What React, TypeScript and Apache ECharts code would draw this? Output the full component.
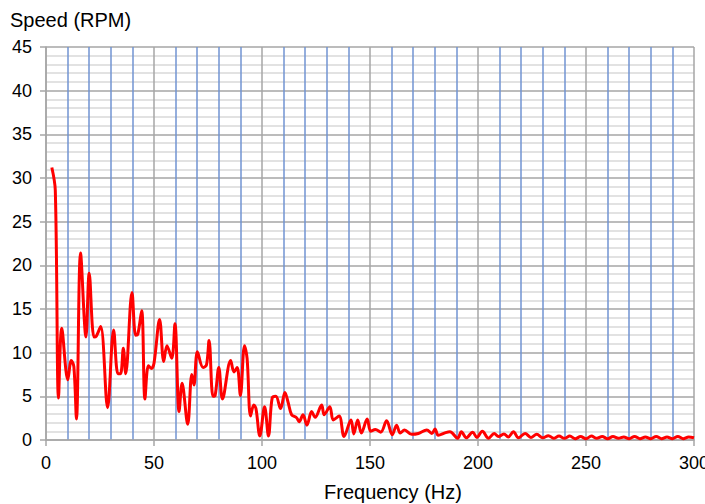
import React, { useEffect, useRef } from "react";
import * as echarts from "echarts";

const freqHz = [
  2.7, 4.3, 5.8, 7.3, 10.1, 11.7, 12.9, 14.1, 16.0, 18.5, 20.0, 22.2, 23.3, 25.3, 28.5, 31.3, 33.3, 34.5, 35.8, 36.9,
  39.8, 41.5, 42.5, 44.3, 45.8, 47.4, 48.8, 50.0, 52.6, 54.5, 56.0, 58.2, 59.7, 61.6, 63.0, 65.6, 67.5, 68.5, 70.1, 72.7,
  74.3, 75.5, 77.3, 78.3, 80.0, 81.7, 85.5, 87.0, 88.5, 90.0, 91.9, 93.1, 94.7, 96.2, 97.2, 99.0, 101.2, 103.0, 104.7, 106.4,
  108.6, 110.6, 112.1, 113.7, 116.0, 117.2, 119.0, 120.8, 123.0, 124.6, 127.6, 128.8, 131.4, 133.0, 135.7, 138.0, 141.2, 142.5, 144.3, 146.0,
  148.7, 150.3, 152.5, 155.0, 157.7, 160.3, 162.3, 164.0, 166.0, 169.3, 172.4, 176.3, 178.6, 180.1, 181.6, 185.0, 187.0, 190.6, 192.3, 194.6,
  197.5, 199.5, 202.0, 204.9, 207.5, 209.5, 212.0, 214.0, 216.4, 218.7, 221.8, 224.5, 227.2, 230.0, 232.6, 235.0, 237.5, 240.0, 242.5, 245.0,
  247.5, 250.0, 252.5, 255.0, 257.5, 260.0, 262.5, 265.0, 267.5, 270.0, 272.5, 275.0, 277.5, 280.0, 282.5, 285.0, 287.5, 290.0, 292.5, 295.0,
  297.5, 300.0,
];

const speedRpm = [
  31.2, 28.6, 4.8, 12.8, 6.9, 9.1, 8.4, 2.4, 21.4, 11.8, 19.1, 11.8, 11.9, 13.0, 3.7, 12.6, 7.6, 7.6, 10.5, 7.6,
  16.9, 12.0, 12.1, 14.8, 4.7, 8.5, 8.2, 8.8, 13.8, 9.0, 10.8, 9.35, 13.3, 3.25, 6.5, 1.8, 7.5, 6.3, 10.1, 8.3,
  8.6, 11.4, 5.0, 5.1, 8.3, 4.7, 9.1, 7.8, 8.3, 5.1, 10.8, 9.35, 2.75, 4.0, 3.6, 0.46, 3.8, 0.46, 4.8, 5.0,
  3.6, 5.45, 4.3, 2.9, 2.55, 2.1, 2.9, 1.7, 3.25, 2.6, 4.0, 2.9, 3.8, 2.3, 2.75, 0.4, 2.3, 0.7, 2.3, 0.8,
  2.4, 1.0, 1.2, 0.9, 2.2, 0.6, 1.7, 0.8, 1.15, 0.65, 0.75, 1.15, 0.75, 1.25, 0.55, 0.85, 0.95, 0.2, 0.95, 0.25,
  0.9, 0.3, 1.0, 0.2, 0.75, 0.4, 0.7, 0.35, 0.95, 0.25, 0.75, 0.3, 0.65, 0.25, 0.5, 0.2, 0.45, 0.2, 0.45, 0.15,
  0.4, 0.15, 0.45, 0.2, 0.4, 0.15, 0.4, 0.2, 0.35, 0.15, 0.4, 0.15, 0.35, 0.15, 0.4, 0.15, 0.35, 0.15, 0.4, 0.15,
  0.35, 0.25,
];

const yAxisTitle = "Speed (RPM)";
const xAxisTitle = "Frequency (Hz)";

const FONT = "Liberation Sans, Arial, sans-serif";
const MAJOR = "#a6a6a6";
const MINOR = "#d9d9d9";
const BLUE = "#7093d2";

export default function App() {
  const ref = useRef<HTMLDivElement>(null);
  useEffect(() => {
    if (!ref.current) return;
    const chart = echarts.init(ref.current, null, { renderer: "svg" });
    const grid = { left: 46, right: 11, top: 47, bottom: 64, containLabel: false, outerBoundsMode: "none" };
    chart.setOption({
      animation: false,
      backgroundColor: "#ffffff",
      grid,
      xAxis: [
        {
          type: "value",
          min: 0,
          max: 300,
          interval: 10,
          position: "bottom",
          axisLine: { show: false },
          axisTick: { show: false },
          axisLabel: { show: false },
          splitLine: {
            show: true,
            lineStyle: { color: [MAJOR, BLUE, BLUE, BLUE, BLUE], width: 1.5 },
          },
        },
        {
          type: "value",
          min: 0,
          max: 300,
          interval: 50,
          position: "bottom",
          axisLine: { show: true, onZero: false, lineStyle: { color: MAJOR, width: 1.5 } },
          axisTick: { show: true, inside: false, length: 6, lineStyle: { color: MAJOR, width: 1.5 } },
          axisLabel: { show: true, color: "#000", fontFamily: FONT, fontSize: 18, margin: 14, hideOverlap: false },
          splitLine: { show: false },
        },
      ],
      yAxis: [
        {
          type: "value",
          min: 0,
          max: 45,
          interval: 1,
          position: "left",
          axisLine: { show: false },
          axisTick: { show: false },
          axisLabel: { show: false },
          splitLine: {
            show: true,
            lineStyle: { color: [MAJOR, MINOR, MINOR, MINOR, MINOR], width: 1.5 },
          },
        },
        {
          type: "value",
          min: 0,
          max: 45,
          interval: 5,
          position: "left",
          axisLine: { show: true, onZero: false, lineStyle: { color: MAJOR, width: 1.5 } },
          axisTick: { show: true, inside: false, length: 6, lineStyle: { color: MAJOR, width: 1.5 } },
          axisLabel: { show: true, color: "#000", fontFamily: FONT, fontSize: 18, margin: 14 },
          splitLine: { show: false },
        },
      ],
      graphic: [
        {
          type: "text",
          left: 10,
          top: 10,
          style: { text: yAxisTitle, fill: "#000", font: `20px ${FONT}` },
        },
        {
          type: "text",
          x: 393,
          y: 492,
          style: {
            text: xAxisTitle,
            fill: "#000",
            font: `20px ${FONT}`,
            textAlign: "center",
            textVerticalAlign: "middle",
          },
        },
      ],
      series: [
        {
          type: "line",
          xAxisIndex: 0,
          yAxisIndex: 0,
          data: freqHz.map((f, i) => [f, speedRpm[i]]),
          showSymbol: false,
          smooth: 0.35,
          lineStyle: { color: "#ff0000", width: 3 },
          z: 10,
        },
      ],
    });
    return () => chart.dispose();
  }, []);
  return <div ref={ref} style={{ width: 705, height: 504, position: "absolute", left: 0, top: 0 }} />;
}
